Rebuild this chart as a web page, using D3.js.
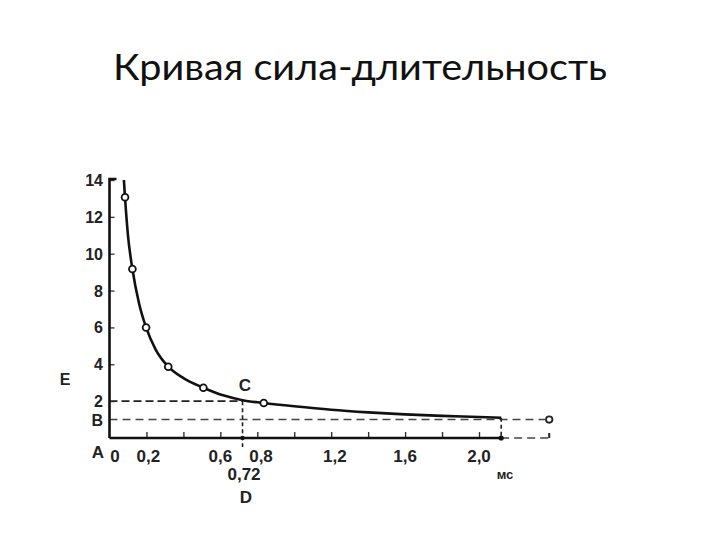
<!DOCTYPE html>
<html><head><meta charset="utf-8">
<script src="https://cdn.jsdelivr.net/npm/d3@7"></script>
<style>body{margin:0;background:#fff}svg{display:block}</style>
</head><body>
<svg id="c" width="720" height="540"></svg>
<script>
const title = "Кривая сила-длительность";
const curveT = [0.078, 0.084, 0.10, 0.124, 0.16, 0.198, 0.25, 0.318, 0.40, 0.508, 0.62, 0.72, 0.835, 1.0, 1.2, 1.4, 1.6, 1.8, 2.0, 2.12];
const curveE = [14, 13.06, 11.0, 9.17, 7.3, 6.0, 4.8, 3.87, 3.25, 2.73, 2.3, 2.05, 1.9, 1.72, 1.53, 1.39, 1.28, 1.2, 1.14, 1.1];
const markerT = [0.084, 0.124, 0.198, 0.318, 0.508, 0.835];
const markerE = [13.06, 9.17, 6.0, 3.87, 2.73, 1.9];
const yTicks = [2, 4, 6, 8, 10, 12, 14];
const yTickLabels = ["2", "4", "6", "8", "10", "12", "14"];
const xTicks = [0.2, 0.4, 0.6, 0.8, 1.0, 1.2, 1.4, 1.6, 1.8, 2.0];
const xLabelVals = [0.03, 0.21, 0.6, 0.82, 1.22, 1.6, 2.0];
const xLabels = ["0", "0,2", "0,6", "0,8", "1,2", "1,6", "2,0"];
const rheobase = 1.0;       // B
const chronaxie = 0.72;     // D
const doubleRheo = 2.0;
const tEnd = 2.12;
const tOpen = 2.38;

const svg = d3.select("#c");
const x = d3.scaleLinear().domain([0, 2]).range([109.5, 479]);
const y = d3.scaleLinear().domain([0, 14]).range([438, 180]);

svg.append("text").attr("x", 360).attr("y", 80).attr("text-anchor", "middle")
  .attr("font-family", "Lato, 'Open Sans', sans-serif").attr("font-size", 37)
  .attr("textLength", 494).attr("lengthAdjust", "spacingAndGlyphs")
  .attr("fill", "#111").text(title);

const g = svg.append("g");
const lab = {"font-family": "'Liberation Sans', Arial, sans-serif", "font-size": 16, "font-weight": "bold", "fill": "#222"};
function txt(t, px, py, anchor) {
  const e = g.append("text").attr("x", px).attr("y", py).attr("text-anchor", anchor || "middle").text(t);
  for (const k in lab) e.attr(k, lab[k]);
  return e;
}

// dashed guide lines
const dash = "8,4";
g.append("line").attr("x1", x(0)).attr("x2", x(chronaxie)).attr("y1", y(doubleRheo)).attr("y2", y(doubleRheo))
  .attr("stroke", "#222").attr("stroke-width", 1.8).attr("stroke-dasharray", dash);
g.append("line").attr("x1", x(0)).attr("x2", x(tOpen) - 4).attr("y1", y(rheobase)).attr("y2", y(rheobase))
  .attr("stroke", "#444").attr("stroke-width", 1.4).attr("stroke-dasharray", "8,5");
g.append("line").attr("x1", x(chronaxie)).attr("x2", x(chronaxie)).attr("y1", y(doubleRheo)).attr("y2", y(0) + 9)
  .attr("stroke", "#222").attr("stroke-width", 1.6).attr("stroke-dasharray", "4,3");
g.append("line").attr("x1", x(tEnd)).attr("x2", x(tEnd)).attr("y1", y(1.1)).attr("y2", y(0))
  .attr("stroke", "#222").attr("stroke-width", 1.6).attr("stroke-dasharray", "4,3");
g.append("line").attr("x1", x(tEnd)).attr("x2", x(tOpen)).attr("y1", y(0)).attr("y2", y(0))
  .attr("stroke", "#444").attr("stroke-width", 1.4).attr("stroke-dasharray", "8,5");
g.append("line").attr("x1", x(tOpen)).attr("x2", x(tOpen)).attr("y1", y(0) - 5).attr("y2", y(0))
  .attr("stroke", "#222").attr("stroke-width", 2);
g.append("circle").attr("cx", x(tOpen)).attr("cy", y(rheobase)).attr("r", 3.2)
  .attr("fill", "#fff").attr("stroke", "#222").attr("stroke-width", 1.8);

// axes
const yAxis = d3.axisRight(y).tickValues(yTicks).tickSize(5).tickFormat("");
const ya = g.append("g").attr("transform", `translate(${x(0)},0)`).call(yAxis);
ya.select(".domain").remove();
ya.selectAll("line").attr("stroke", "#333").attr("stroke-width", 1.3);
g.append("path").attr("d", `M${x(0) + 7},${y(14) - 1}H${x(0)}V${y(0)}`)
  .attr("fill", "none").attr("stroke", "#111").attr("stroke-width", 2.6);

const xAxis = d3.axisTop(x).tickValues(xTicks).tickSize(6).tickFormat("");
const xa = g.append("g").attr("transform", `translate(0,${y(0)})`).call(xAxis);
xa.select(".domain").remove();
xa.selectAll("line").attr("stroke", "#333").attr("stroke-width", 1.4);
g.append("line").attr("x1", x(0)).attr("x2", x(tEnd)).attr("y1", y(0)).attr("y2", y(0))
  .attr("stroke", "#111").attr("stroke-width", 2.4);
g.append("circle").attr("cx", x(chronaxie)).attr("cy", y(0)).attr("r", 2.2).attr("fill", "#111");
g.append("circle").attr("cx", x(tEnd)).attr("cy", y(0)).attr("r", 2.6).attr("fill", "#111");

// curve
const pts = curveT.map((t, i) => [t, curveE[i]]);
g.append("path").datum(pts)
  .attr("d", d3.line().x(d => x(d[0])).y(d => y(d[1])).curve(d3.curveMonotoneX))
  .attr("fill", "none").attr("stroke", "#111").attr("stroke-width", 2.6);
g.selectAll("circle.m").data(markerT.map((t, i) => [t, markerE[i]])).join("circle").attr("class", "m")
  .attr("cx", d => x(d[0])).attr("cy", d => y(d[1])).attr("r", 3.4)
  .attr("fill", "#fff").attr("stroke", "#111").attr("stroke-width", 1.8);

// labels
yTicks.forEach((v, i) => txt(yTickLabels[i], 103, y(v) + 6, "end").attr("font-size", 16));
txt("B", 103, y(rheobase) + 6, "end");
txt("A", 104, y(0) + 20, "end").attr("font-size", 17);
txt("E", 65, y(3.2) + 6).attr("font-size", 16);
xLabelVals.forEach((v, i) => txt(xLabels[i], x(v), y(0) + 24).attr("font-size", 17));
txt("0,72", 244, y(0) + 42).attr("font-size", 17);
txt("D", 246, y(0) + 65).attr("font-size", 17);
txt("C", 245, 391).attr("font-size", 17);
txt("мс", 505, 479).attr("font-size", 13);
</script>
</body></html>
